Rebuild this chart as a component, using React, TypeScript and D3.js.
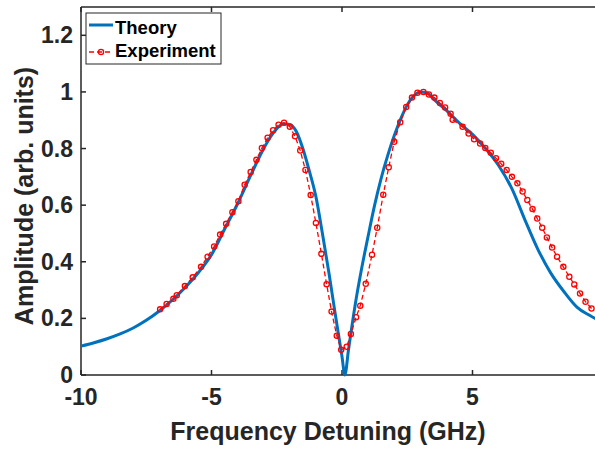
import React from 'react';
import * as d3 from 'd3';

// theory curve
const theoryX = [-10, -9.5, -9, -8.5, -8, -7.5, -7, -6.5, -6, -5.5, -5, -4.5, -4, -3.5, -3, -2.75, -2.5, -2.25, -2, -1.75, -1.5, -1.25, -1, -0.75, -0.5, -0.25, 0, 0.11, 0.25, 0.5, 0.75, 1, 1.25, 1.5, 1.75, 2, 2.25, 2.5, 2.75, 3, 3.25, 3.5, 4, 4.5, 5, 5.5, 6, 6.5, 7, 7.5, 8, 8.5, 9, 9.5, 10];
const theoryY = [0.102, 0.114, 0.128, 0.145, 0.166, 0.193, 0.226, 0.265, 0.31, 0.362, 0.425, 0.515, 0.605, 0.705, 0.8, 0.84, 0.87, 0.888, 0.885, 0.86, 0.8, 0.72, 0.63, 0.5, 0.36, 0.21, 0.065, 0, 0.09, 0.245, 0.375, 0.49, 0.6, 0.695, 0.775, 0.845, 0.905, 0.954, 0.986, 1.0, 0.997, 0.975, 0.935, 0.89, 0.85, 0.8, 0.74, 0.66, 0.55, 0.445, 0.36, 0.295, 0.24, 0.21, 0.185];

// experiment points
const expX = [-6.97, -6.72, -6.46, -6.33, -6.02, -5.72, -5.4, -5.15, -4.9, -4.67, -4.44, -4.2, -3.97, -3.73, -3.5, -3.28, -3.07, -2.85, -2.64, -2.43, -2.22, -2.0, -1.8, -1.6, -1.4, -1.2, -1.0, -0.79, -0.59, -0.4, -0.2, -0.03, 0.18, 0.34, 0.54, 0.7, 0.91, 1.15, 1.35, 1.58, 1.79, 2.0, 2.23, 2.46, 2.68, 2.89, 3.12, 3.33, 3.54, 3.75, 3.95, 4.16, 4.24, 4.62, 4.85, 5.06, 5.29, 5.49, 5.7, 5.9, 6.1, 6.31, 6.51, 6.72, 6.92, 7.1, 7.3, 7.48, 7.67, 7.85, 8.05, 8.24, 8.48, 8.71, 8.9, 9.12, 9.33, 9.56];
const expY = [0.232, 0.251, 0.269, 0.282, 0.314, 0.345, 0.382, 0.418, 0.454, 0.496, 0.534, 0.575, 0.614, 0.672, 0.717, 0.76, 0.802, 0.838, 0.865, 0.884, 0.891, 0.877, 0.843, 0.793, 0.724, 0.636, 0.537, 0.428, 0.321, 0.224, 0.139, 0.089, 0.1, 0.145, 0.204, 0.245, 0.322, 0.425, 0.52, 0.637, 0.734, 0.824, 0.893, 0.947, 0.98, 0.997, 1.0, 0.991, 0.98, 0.961, 0.945, 0.923, 0.902, 0.877, 0.853, 0.833, 0.818, 0.802, 0.785, 0.766, 0.746, 0.724, 0.7, 0.677, 0.648, 0.618, 0.586, 0.553, 0.52, 0.486, 0.45, 0.418, 0.382, 0.347, 0.32, 0.288, 0.259, 0.235];

const xTicks = [-10, -5, 0, 5];
const yTicks = [0, 0.2, 0.4, 0.6, 0.8, 1, 1.2];

const W = 595;
const H = 449;
const axisColor = '#262626';
const font = '"Liberation Sans", Arial, sans-serif';

export default function App() {
  const x = d3.scaleLinear().domain([-10, 10]).range([81, 603]);
  const y = d3.scaleLinear().domain([0, 1.3]).range([375, 7]);

  const theoryLine = d3
    .line<number>()
    .x((d, i) => x(theoryX[i]))
    .y(d => y(d))
    .curve(d3.curveMonotoneX);

  const expLine = d3
    .line<number>()
    .x((d, i) => x(expX[i]))
    .y(d => y(d));

  const [x0, x1] = x.range();
  const [yb, yt] = y.range();

  return (
    <svg width={W} height={H} style={{position: 'absolute', left: 0, top: 0, background: '#fff'}}>
      <rect x={0} y={0} width={W} height={H} fill="#fff" />

      {/* frame */}
      <g stroke={axisColor} strokeWidth={1.5} fill="none">
        <line x1={x0} y1={yb} x2={x1} y2={yb} />
        <line x1={x0} y1={yt} x2={x1} y2={yt} />
        <line x1={x0} y1={yb} x2={x0} y2={yt} />
        {xTicks.map(t => (
          <g key={t}>
            <line x1={x(t)} x2={x(t)} y1={yb} y2={yb - 5} />
            <line x1={x(t)} x2={x(t)} y1={yt} y2={yt + 5} />
          </g>
        ))}
        {yTicks.map(t => (
          <line key={t} x1={x0} x2={x0 + 5} y1={y(t)} y2={y(t)} />
        ))}
      </g>

      {/* tick labels */}
      <g fontFamily={font} fontWeight="bold" fontSize={23} fill={axisColor}>
        {xTicks.map(t => (
          <text key={t} x={x(t)} y={405} textAnchor="middle">
            {String(t)}
          </text>
        ))}
        {yTicks.map(t => (
          <text key={t} x={73} y={y(t) + 8} textAnchor="end">
            {String(t)}
          </text>
        ))}
      </g>

      {/* axis labels */}
      <text
        x={328}
        y={440}
        textAnchor="middle"
        fontFamily={font}
        fontWeight="bold"
        fontSize={25}
        fill={axisColor}
      >
        Frequency Detuning (GHz)
      </text>
      <text
        transform="translate(33,196) rotate(-90)"
        textAnchor="middle"
        fontFamily={font}
        fontWeight="bold"
        fontSize={25}
        fill={axisColor}
      >
        Amplitude (arb. units)
      </text>

      {/* theory */}
      <path d={theoryLine(theoryY) || ''} fill="none" stroke="#0072BD" strokeWidth={3} />

      {/* experiment */}
      <path
        d={expLine(expY) || ''}
        fill="none"
        stroke="#ff0000"
        strokeWidth={1.3}
        strokeDasharray="5,3"
      />
      {expY.map((v, i) => (
        <circle key={i} cx={x(expX[i])} cy={y(v)} r={2.6} fill="none" stroke="#ff0000" strokeWidth={1.3} />
      ))}

      {/* legend */}
      <rect x={86} y={13} width={135} height={51} fill="#fff" stroke={axisColor} strokeWidth={1} />
      <line x1={89} x2={113} y1={25} y2={25} stroke="#0072BD" strokeWidth={3} />
      <line x1={89} x2={113} y1={52} y2={52} stroke="#ff0000" strokeWidth={1.3} strokeDasharray="5,3" />
      <circle cx={101} cy={52} r={2.6} fill="none" stroke="#ff0000" strokeWidth={1.3} />
      <g fontFamily={font} fontWeight="bold" fontSize={18.5} fill="#000">
        <text x={115} y={34}>Theory</text>
        <text x={115} y={57}>Experiment</text>
      </g>
    </svg>
  );
}
